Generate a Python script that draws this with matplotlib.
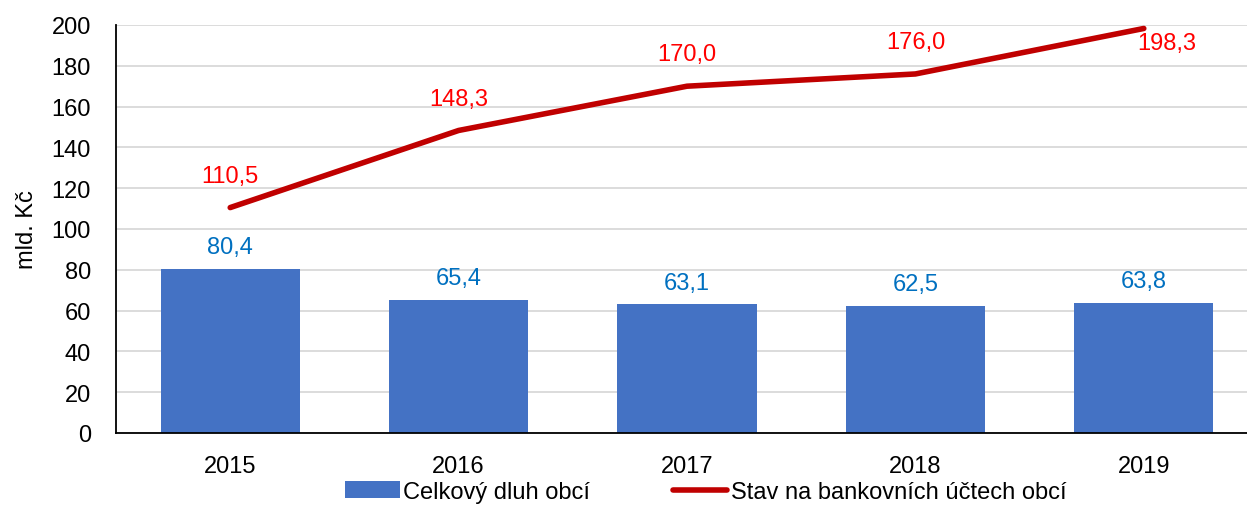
import matplotlib.pyplot as plt
import numpy as np

plt.rcParams['font.family'] = ['Liberation Sans', 'DejaVu Sans']

years = ["2015", "2016", "2017", "2018", "2019"]
dluh = [80.4, 65.4, 63.1, 62.5, 63.8]
ucty = [110.5, 148.3, 170.0, 176.0, 198.3]

BAR_COLOR = "#4472C4"
LINE_COLOR = "#C00000"
FS = 17


def fmt(v):
    return f"{v:.1f}".replace(".", ",")


fig = plt.figure(figsize=(12.47, 5.06), dpi=100)
ax = fig.add_axes([116 / 1247, 72 / 506, 1142 / 1247, 408 / 506])

x = np.arange(len(years))
bars = ax.bar(x, dluh, width=0.61, color=BAR_COLOR, label="Celkový dluh obcí", zorder=2)
line, = ax.plot(x, ucty, color=LINE_COLOR, lw=4, solid_capstyle="round",
                label="Stav na bankovních účtech obcí", zorder=3)

# popisky hodnot
for xi, v in zip(x, dluh):
    ax.annotate(fmt(v), (xi, v), xytext=(0, 15.5), textcoords="offset points",
                ha="center", va="center", color="#0070C0", fontsize=FS)

for i, (xi, v) in enumerate(zip(x, ucty)):
    if i == len(ucty) - 1:
        off = (16.5, -10.5)
    else:
        off = (0, 23)
    ax.annotate(fmt(v), (xi, v), xytext=off, textcoords="offset points",
                ha="center", va="center", color="#FF0000", fontsize=FS)

ax.set_xlim(-0.5, len(years) - 0.5)
ax.set_ylim(0, 200)
ax.set_yticks(range(0, 201, 20))
ax.set_xticks(x)
ax.set_xticklabels(years)
ax.tick_params(axis="both", length=0, labelsize=FS)
ax.tick_params(axis="x", pad=15.5)
ax.tick_params(axis="y", pad=18)
ax.yaxis.grid(True, color="#D9D9D9", lw=1.3, zorder=0)
ax.set_axisbelow(True)
for s in ["top", "right"]:
    ax.spines[s].set_visible(False)
for s in ["left", "bottom"]:
    ax.spines[s].set_color("black")
    ax.spines[s].set_linewidth(1.3)
ax.set_ylabel("mld. Kč", fontsize=FS, labelpad=10)

fig.legend(handles=[bars, line], loc="center", bbox_to_anchor=(0.566, 0.026),
           ncol=2, frameon=False, fontsize=FS, handlelength=2.3,
           handletextpad=0.15, columnspacing=3.5)

fig.savefig("out.png", dpi=100)
